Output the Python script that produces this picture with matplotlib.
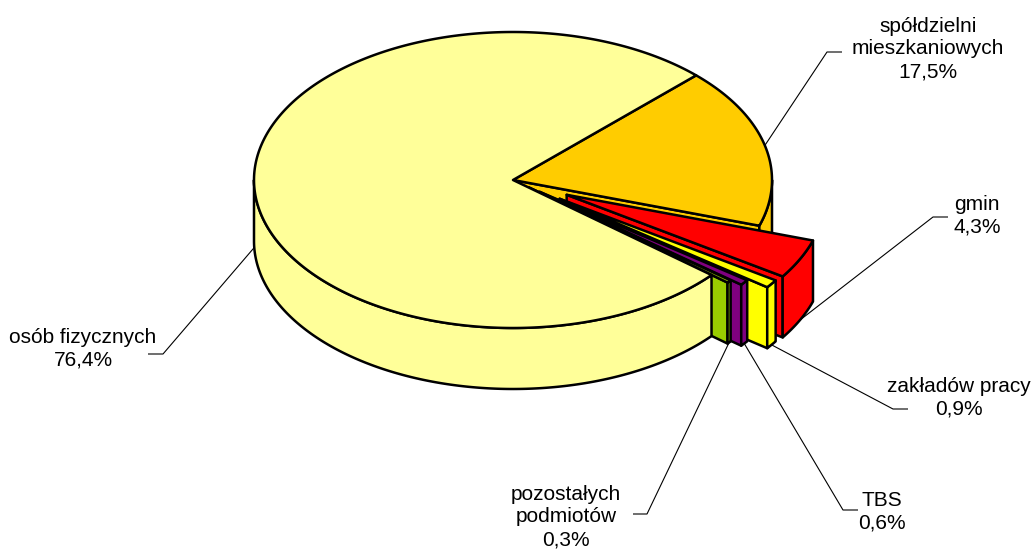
import numpy as np
import matplotlib
matplotlib.use("Agg")
import matplotlib.pyplot as plt
from matplotlib.patches import Polygon

# ---------------- data (clockwise, starting at the 45° mark) ----------------
categories = ["spółdzielni\nmieszkaniowych", "gmin", "zakładów pracy", "TBS",
              "pozostałych\npodmiotów", "osób fizycznych"]
shares = [17.5, 4.3, 0.9, 0.6, 0.3, 76.4]
pct_labels = ["17,5%", "4,3%", "0,9%", "0,6%", "0,3%", "76,4%"]

# ---------------- style / layout ----------------
colors = ["#FFCC00", "#FF0000", "#FFFF00", "#800080", "#99CC00", "#FFFF99"]
explode = [0.0, 0.23, 0.22, 0.13, 0.08, 0.0]
START = 45.0
CX, CY, RX, RY, DEPTH = 513, 180, 259, 148, 61
W, H = 1034, 551

label_pos = [(928, 49), (977, 216), (959, 398), (882, 512), (566, 517), (83, 349)]
elbows = [((827, 52), (842, 52)), ((933, 217), (948, 217)),
          ((893, 409), (908, 409)), ((843, 510), (858, 510)),
          ((647, 514), (633, 514)), ((163, 354), (148, 354))]
anchor_side = ["top", "bottom", "bottom", "bottom", "bottom", "bottom"]

fig = plt.figure(figsize=(W / 100, H / 100), dpi=100)
ax = fig.add_axes([0, 0, 1, 1])
ax.set_xlim(0, W)
ax.set_ylim(H, 0)
ax.axis("off")

n = len(shares)
total = float(sum(shares))
spans = []
cum = 0.0
for v in shares:
    a2 = START - cum / total * 360.0
    a1 = a2 - v / total * 360.0
    spans.append((a1, a2))
    cum += v


def offset(i):
    a1, a2 = spans[i]
    b = np.radians((a1 + a2) / 2)
    return explode[i] * RX * np.cos(b), -explode[i] * RY * np.sin(b)


def rim(i, t_deg, z=0.0):
    dx, dy = offset(i)
    t = np.radians(np.asarray(t_deg, dtype=float))
    return CX + dx + RX * np.cos(t), CY + dy - RY * np.sin(t) + z


style = dict(edgecolor="black", linewidth=1.8, joinstyle="round")


def poly(xs, ys, color, z):
    ax.add_patch(Polygon(np.column_stack([xs, ys]), closed=True,
                         facecolor=color, zorder=z, **style))


zc = 1
for i in range(n):
    a1, a2 = spans[i]
    dx, dy = offset(i)
    ax0, ay0 = CX + dx, CY + dy
    # cut faces
    for ang, nb, vis in ((a1, (i + 1) % n, np.cos(np.radians(a1)) > 0),
                         (a2, (i - 1) % n, np.cos(np.radians(a2)) < 0)):
        if not vis or (explode[i] == 0 and explode[nb] == 0):
            continue
        rx_, ry_ = rim(i, ang)
        poly([ax0, rx_, rx_, ax0], [ay0, ry_, ry_ + DEPTH, ay0 + DEPTH],
             colors[i], zc)
        zc += 1
    # outer walls (front half only)
    for k in (-1, 0, 1):
        s = max(a1, -180 + 360 * k)
        e = min(a2, 360 * k)
        if e > s:
            ts = np.linspace(s, e, 200)
            xt, yt = rim(i, ts)
            xs = np.concatenate([xt, xt[::-1]])
            ys = np.concatenate([yt, (yt + DEPTH)[::-1]])
            poly(xs, ys, colors[i], zc)
            zc += 1
    # top face
    ts = np.linspace(a1, a2, max(int(abs(a2 - a1) * 3), 8))
    xt, yt = rim(i, ts)
    poly(np.concatenate([[ax0], xt]), np.concatenate([[ay0], yt]),
         colors[i], zc)
    zc += 1

# labels with leader lines
for i in range(n):
    a1, a2 = spans[i]
    bis = (a1 + a2) / 2
    z = 0.0 if anchor_side[i] == "top" else DEPTH
    px, py = rim(i, bis, z)
    (ex, ey), (fx, fy) = elbows[i]
    ax.plot([px, ex, fx], [py, ey, fy], color="black", lw=0.8, zorder=zc + 1,
            solid_capstyle="butt")
    lx, ly = label_pos[i]
    ax.text(lx, ly, f"{categories[i]}\n{pct_labels[i]}", ha="center",
            va="center", fontsize=15, family="Liberation Sans",
            linespacing=1.25, color="black", zorder=zc + 2)

fig.savefig("out.png", dpi=100, facecolor="white")
